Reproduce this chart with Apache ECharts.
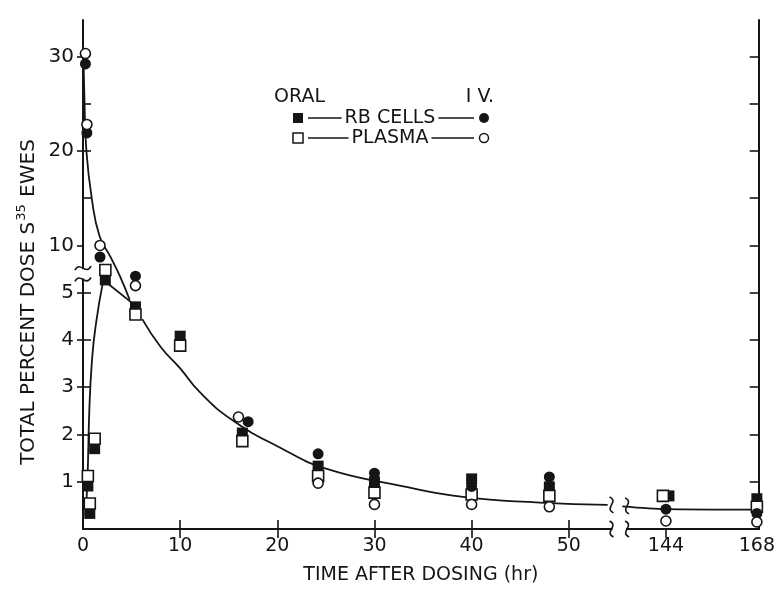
<!DOCTYPE html>
<html>
<head>
<meta charset="utf-8">
<script src="https://cdn.jsdelivr.net/npm/echarts@6/dist/echarts.min.js"></script>
<style>
  html, body { margin: 0; padding: 0; background: #fff; }
  #main { width: 778px; height: 590px; }
</style>
</head>
<body>
<div id="main"></div>
<script>
// values: time (hr) and total percent dose
const oralRbcTime = [0.5, 0.7, 1.2, 2.3, 5.4, 10, 16.4, 24.2, 30, 40, 48, 144.8, 168];
const oralRbcDose = [0.91, 0.33, 1.7, 5.27, 4.7, 4.08, 2.03, 1.33, 1.0, 1.06, 0.89, 0.7, 0.64];
const oralPlasmaTime = [0.5, 0.7, 1.2, 2.3, 5.4, 10, 16.4, 24.2, 30, 40, 48, 143.2, 168];
const oralPlasmaDose = [1.12, 0.54, 1.91, 5.48, 4.54, 3.88, 1.86, 1.12, 0.77, 0.73, 0.7, 0.7, 0.47];
const ivRbcTime = [0.25, 0.4, 1.75, 5.4, 17, 24.2, 30, 40, 48, 144, 168];
const ivRbcDose = [29.2, 21.9, 7.8, 5.35, 2.27, 1.59, 1.18, 0.9, 1.1, 0.42, 0.33];
const ivPlasmaTime = [0.25, 0.4, 1.75, 5.4, 16, 24.2, 30, 40, 48, 144, 168];
const ivPlasmaDose = [30.3, 22.8, 10, 5.15, 2.37, 0.97, 0.52, 0.52, 0.47, 0.17, 0.15];

// hand drawn curves
const ivCurveTime = [0.05, 0.15, 0.35, 0.9, 1.7, 2.8, 3.8, 4.8];
const ivCurveDose = [30.5, 25.5, 20, 15, 11, 7.9, 5.35, 4.85];
const oralRiseTime = [0.25, 0.45, 0.65, 0.9, 1.3, 2.1];
const oralRiseDose = [0.3, 1.0, 2.5, 3.5, 4.3, 5.27];
const oralFallTime = [2.1, 5.0];
const oralFallDose = [5.27, 4.79];
const tailTime = [6.1, 8, 10, 12, 15.4, 20.3, 25.1, 32.6, 39.1, 47, 54];
const tailDose = [4.44, 3.85, 3.4, 2.9, 2.3, 1.72, 1.27, 0.92, 0.68, 0.56, 0.51];
const farTailTime = [132.5, 144, 167];
const farTailDose = [0.48, 0.42, 0.41];

// tick labels
const timeTicks = [0, 10, 20, 30, 40, 50, 144, 168];
const doseTicks = [1, 2, 3, 4, 5, 10, 20, 30];
const doseMinor = [15, 25];

// broken axes: 0-55 h linear, then 144-168 h squeezed; dose 0-5.5 linear, 10-30 squeezed
function mapT(t) {
  return t <= 100 ? t : 60 + (t - 144) * 0.39;
}
function mapV(v) {
  if (v <= 5.5) return v;
  if (v < 10) return 5.5 + (v - 5.5) / 9;
  return 6 + (v - 10) * 0.2;
}
function pairs(ts, vs) {
  return ts.map((t, i) => [mapT(t), mapV(vs[i])]);
}
function labelFrom(list, mapFn, v) {
  for (let i = 0; i < list.length; i++) {
    if (Math.abs(mapFn(list[i]) - v) < 0.01) return String(list[i]);
  }
  return '';
}

const ink = '#151515';
const font = '"DejaVu Sans", "Liberation Sans", sans-serif';

const chart = echarts.init(document.getElementById('main'), null, { renderer: 'canvas' });

const lineStyle = { color: ink, width: 1.8 };
function curve(ts, vs, smooth) {
  return {
    type: 'line', data: pairs(ts, vs), showSymbol: false, smooth: smooth,
    lineStyle: lineStyle, z: 2, silent: true
  };
}

const option = {
  animation: false,
  backgroundColor: '#fff',
  grid: { left: 83, right: 19, top: 20, bottom: 51 },
  xAxis: [
    {
      type: 'value', min: 0, max: 69.55, position: 'bottom',
      axisLine: { lineStyle: { color: ink, width: 2 } },
      axisTick: { inside: true, length: 9, customValues: [10, 20, 30, 40, 50], lineStyle: { color: ink, width: 1.6 } },
      axisLabel: {
        customValues: timeTicks.map(mapT),
        formatter: v => labelFrom(timeTicks, mapT, v),
        color: ink, fontFamily: font, fontSize: 19, margin: 8
      },
      splitLine: { show: false },
      name: 'TIME AFTER DOSING (hr)', nameLocation: 'middle', nameGap: 37,
      nameTextStyle: { color: ink, fontFamily: font, fontSize: 19 }
    },
    {
      type: 'value', min: 0, max: 69.55, position: 'top',
      axisLine: { lineStyle: { color: ink, width: 2 } },
      axisTick: { inside: true, length: 9, customValues: [10, 20, 30, 40, 50, 60], lineStyle: { color: ink, width: 1.6 } },
      axisLabel: { show: false },
      splitLine: { show: false }
    }
  ],
  yAxis: [
    {
      type: 'value', min: 0, max: 10.77, position: 'left',
      axisLine: { lineStyle: { color: ink, width: 2 } },
      axisTick: { inside: false, length: 6, customValues: doseTicks.map(mapV), lineStyle: { color: ink, width: 1.6 } },
      axisLabel: {
        customValues: doseTicks.map(mapV),
        formatter: v => labelFrom(doseTicks, mapV, v),
        color: ink, fontFamily: font, fontSize: 20, margin: 9
      },
      splitLine: { show: false }
    },
    {
      type: 'value', min: 0, max: 10.77, position: 'left',
      axisLine: { show: false },
      axisTick: { inside: true, length: 8, customValues: [1, 2, 3, 4, 5].concat(doseMinor.map(mapV), [mapV(20)]), lineStyle: { color: ink, width: 1.6 } },
      axisLabel: { show: false },
      splitLine: { show: false }
    },
    {
      type: 'value', min: 0, max: 10.77, position: 'right',
      axisLine: { lineStyle: { color: ink, width: 2 } },
      axisTick: { inside: true, length: 9, customValues: doseTicks.map(mapV).concat(doseMinor.map(mapV)), lineStyle: { color: ink, width: 1.6 } },
      axisLabel: { show: false },
      splitLine: { show: false }
    }
  ],
  series: [
    curve(ivCurveTime, ivCurveDose, 0.5),
    curve(oralRiseTime, oralRiseDose, 0.5),
    curve(oralFallTime, oralFallDose, false),
    curve(tailTime, tailDose, 0.5),
    curve(farTailTime, farTailDose, 0.3),
    {
      name: 'ORAL RB CELLS', type: 'scatter', symbol: 'rect', symbolSize: 11, clip: false,
      data: pairs(oralRbcTime, oralRbcDose), itemStyle: { color: ink, opacity: 1 }, z: 3
    },
    {
      name: 'ORAL PLASMA', type: 'scatter', symbol: 'rect', symbolSize: 11, clip: false,
      data: pairs(oralPlasmaTime, oralPlasmaDose),
      itemStyle: { color: '#fff', borderColor: ink, borderWidth: 1.6, opacity: 1 }, z: 4
    },
    {
      name: 'IV RB CELLS', type: 'scatter', symbol: 'circle', symbolSize: 11, clip: false,
      data: pairs(ivRbcTime, ivRbcDose), itemStyle: { color: ink, opacity: 1 }, z: 5
    },
    {
      name: 'IV PLASMA', type: 'scatter', symbol: 'circle', symbolSize: 10, clip: false,
      data: pairs(ivPlasmaTime, ivPlasmaDose),
      itemStyle: { color: '#fff', borderColor: ink, borderWidth: 1.6, opacity: 1 }, z: 6
    }
  ]
};

chart.setOption(option);

// ---- break marks, legend and y title drawn on top ----
function px(x, y) {
  return chart.convertToPixel({ xAxisIndex: 0, yAxisIndex: 0 }, [x, y]);
}
function sqV(p) {
  const x = p[0], y = p[1];
  return {
    type: 'bezierCurve', z: 60,
    shape: { x1: x - 2, y1: y - 8, x2: x + 2, y2: y + 8, cpx1: x + 8, cpy1: y - 3, cpx2: x - 8, cpy2: y + 3 },
    style: { stroke: ink, lineWidth: 1.6, fill: null }
  };
}
function sqH(p) {
  const x = p[0], y = p[1];
  return {
    type: 'bezierCurve', z: 60,
    shape: { x1: x - 8, y1: y + 2, x2: x + 8, y2: y - 2, cpx1: x - 3, cpy1: y - 8, cpx2: x + 3, cpy2: y + 8 },
    style: { stroke: ink, lineWidth: 1.6, fill: null }
  };
}
function mask(x1, y1, x2, y2) {
  return { type: 'rect', z: 55, shape: { x: x1, y: y1, width: x2 - x1, height: y2 - y1 }, style: { fill: '#fff' } };
}

const xBreak = [54.4, 56.0];
const yBreak = [5.28, 5.52];
const g = [];

// time axis break
const a1 = px(xBreak[0], 0), a2 = px(xBreak[1], 0);
g.push(mask(a1[0] + 1, a1[1] - 4, a2[0] - 1, a1[1] + 4));
g.push(sqV(a1), sqV(a2));
// curve break
g.push(sqV(px(xBreak[0], mapV(0.51))), sqV(px(xBreak[1], mapV(0.49))));
// dose axis break
const b1 = px(0, yBreak[0]), b2 = px(0, yBreak[1]);
g.push(mask(b1[0] - 4, b2[1] + 1, b1[0] + 4, b1[1] - 1));
g.push(sqH(b1), sqH(b2));

// legend
const measure = document.createElement('canvas').getContext('2d');
function textWidth(s, size) {
  measure.font = size + 'px ' + font;
  return measure.measureText(s).width;
}
function txt(s, x, y, align, size) {
  return {
    type: 'text', z: 60, x: x, y: y,
    style: { text: s, fill: ink, font: size + 'px ' + font, align: align, verticalAlign: 'middle' }
  };
}
function seg(x1, x2, y) {
  return { type: 'line', z: 60, shape: { x1: x1, y1: y, x2: x2, y2: y }, style: { stroke: ink, lineWidth: 1.5 } };
}
g.push(txt('ORAL', 274, 97, 'left', 19));
g.push(txt('I V.', 494, 97, 'right', 19));
const rows = [
  { label: 'RB CELLS', y: 118, filled: true },
  { label: 'PLASMA', y: 138, filled: false }
];
rows.forEach(r => {
  const cx = 390;
  const w = textWidth(r.label, 19);
  g.push({
    type: 'rect', z: 60,
    shape: { x: 293, y: r.y - 5, width: 10, height: 10 },
    style: r.filled ? { fill: ink } : { fill: '#fff', stroke: ink, lineWidth: 1.5 }
  });
  g.push(seg(308, cx - w / 2 - 3, r.y));
  g.push(txt(r.label, cx, r.y, 'center', 19));
  g.push(seg(cx + w / 2 + 3, 474, r.y));
  g.push({
    type: 'circle', z: 60,
    shape: { cx: 484, cy: r.y, r: r.filled ? 5 : 4.5 },
    style: r.filled ? { fill: ink } : { fill: '#fff', stroke: ink, lineWidth: 1.5 }
  });
});

// y axis title with superscript
g.push({
  type: 'text', z: 60, x: 27, y: 302, rotation: Math.PI / 2,
  style: {
    text: '{a|TOTAL PERCENT DOSE S}{s|35}{a| EWES}',
    align: 'center', verticalAlign: 'middle', fill: ink,
    rich: {
      a: { fontFamily: font, fontSize: 20, fill: ink, lineHeight: 24, verticalAlign: 'bottom' },
      s: { fontFamily: font, fontSize: 13, fill: ink, lineHeight: 24, verticalAlign: 'top', padding: [0, 1, 0, 1] }
    }
  }
});

chart.setOption({ graphic: g });
</script>
</body>
</html>
